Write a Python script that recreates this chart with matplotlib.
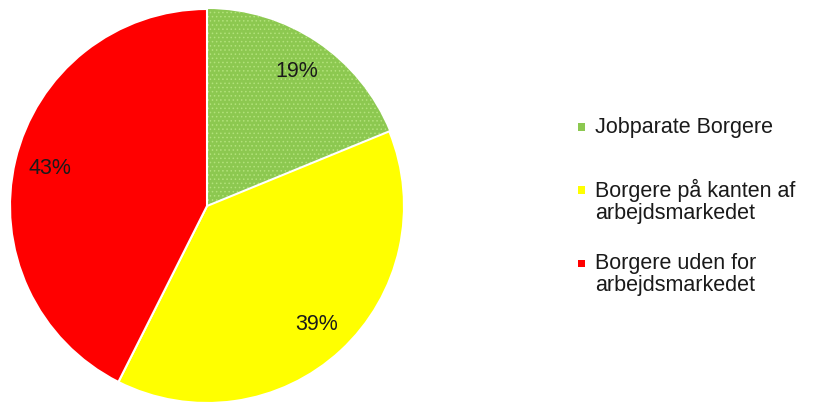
import matplotlib
matplotlib.use("Agg")
import matplotlib.pyplot as plt
from matplotlib.patches import Rectangle

categories = ["Jobparate Borgere", "Borgere på kanten af\narbejdsmarkedet", "Borgere uden for\narbejdsmarkedet"]
values = [19, 39, 43]
colors = ["#8CC850", "#FFFF00", "#FF0000"]

plt.rcParams['font.family'] = ['Liberation Sans', 'DejaVu Sans']
plt.rcParams['hatch.linewidth'] = 0.6

W, H = 826, 403
fig = plt.figure(figsize=(W / 100, H / 100), dpi=100)
cx, cy, r = 207, 403 - 206, 197
ax = fig.add_axes([(cx - r) / W, (cy - r) / H, 2 * r / W, 2 * r / H])
wedges, texts, autotexts = ax.pie(
    values, colors=colors, startangle=90, counterclock=False,
    autopct='%.0f%%', pctdistance=0.82, radius=1,
    wedgeprops=dict(edgecolor='white', linewidth=1.5),
    textprops=dict(fontsize=15.5, color='#1a1a1a'))
wedges[0].set_hatch('....')
wedges[0].set_edgecolor('#B2E27A')
wedges[0].set_linewidth(0)
ax.set_xlim(-1, 1)
ax.set_ylim(-1, 1)
ax.set_aspect('equal')

# legend (manual)
line_pitch = 23
first_line_y = [127, 190, 263]
for lab, col, y0 in zip(categories, colors, first_line_y):
    fig.patches.append(Rectangle((578 / W, (H - y0 - 3.5) / H), 7 / W, 7 / H,
                                 transform=fig.transFigure, facecolor=col, edgecolor='none'))
    for i, line in enumerate(lab.split("\n")):
        fig.text(595 / W, (H - (y0 + i * line_pitch)) / H, line, fontsize=15.5,
                 va='center', ha='left', color='#1a1a1a')

fig.savefig("out.png", dpi=100)
